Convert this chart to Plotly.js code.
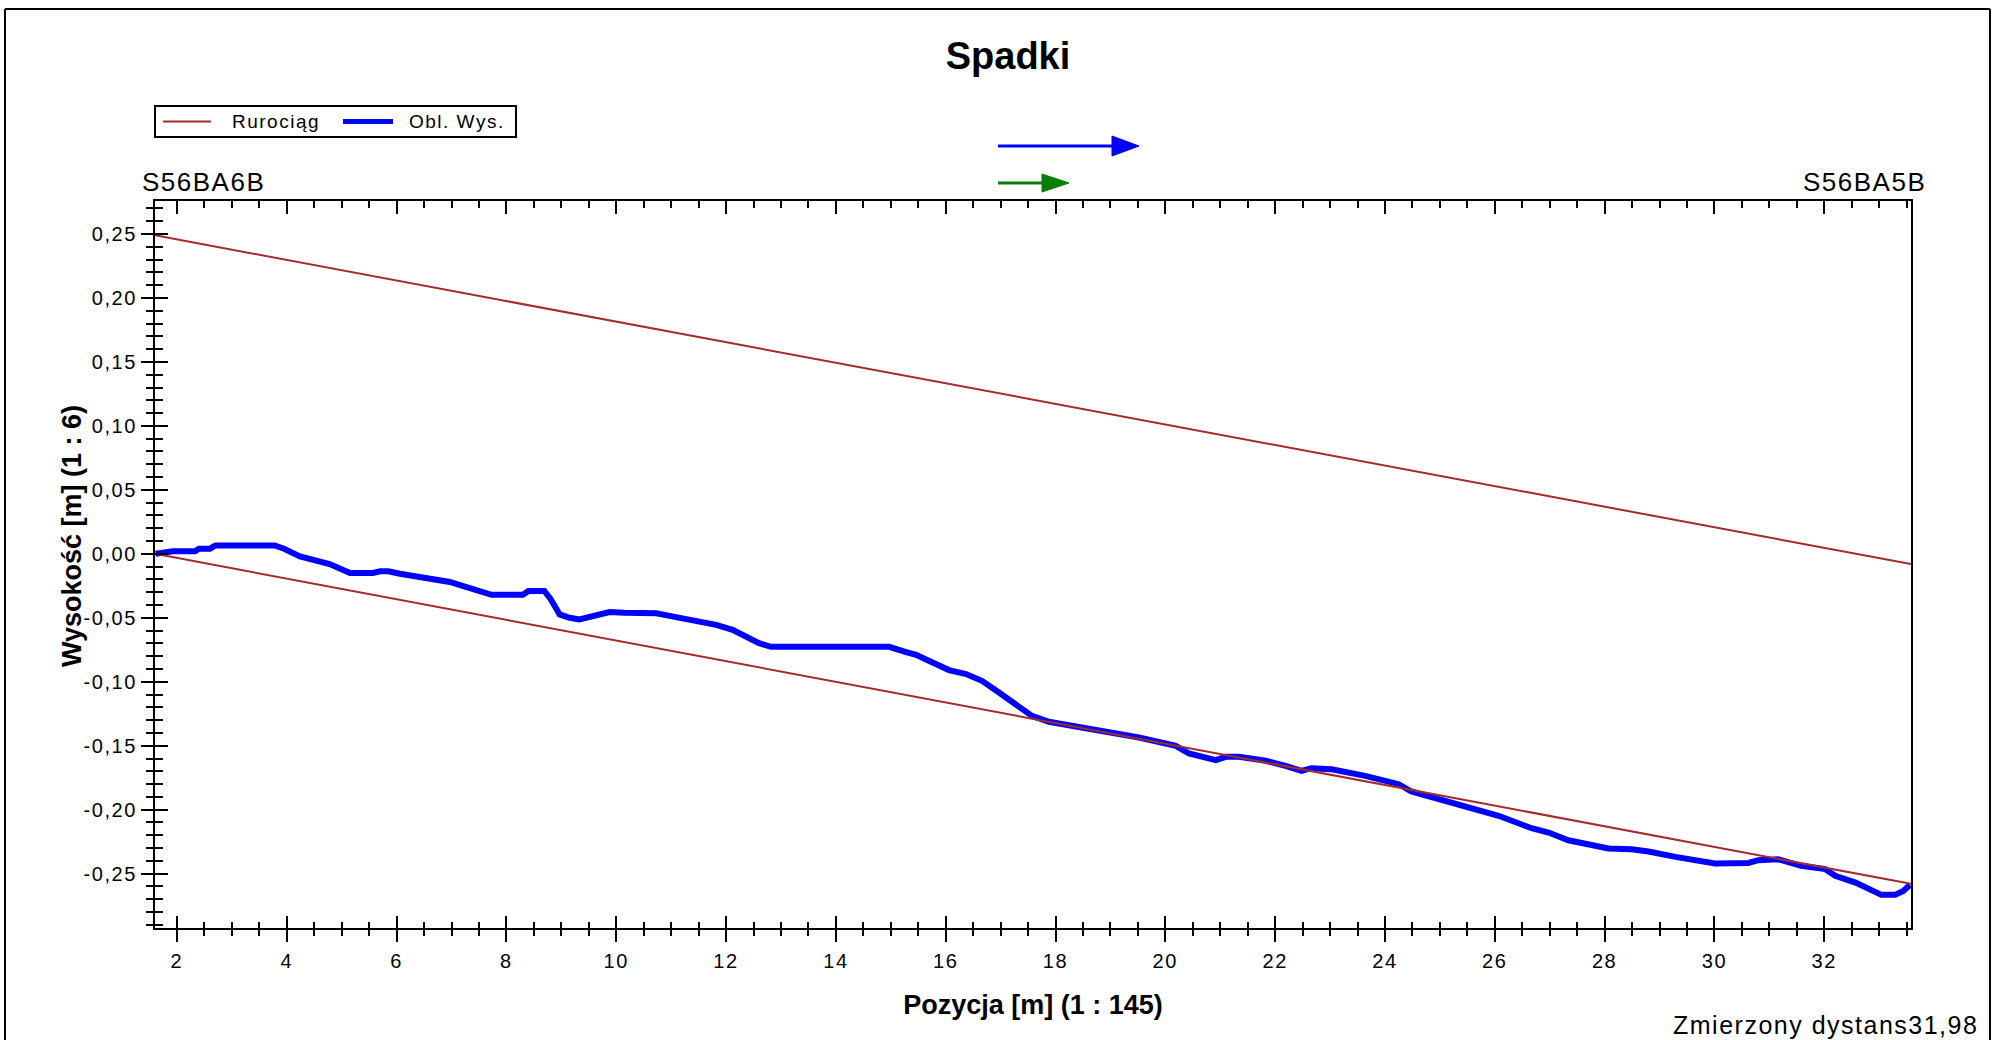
<!DOCTYPE html>
<html><head><meta charset="utf-8">
<script src="https://cdn.plot.ly/plotly-3.0.1.min.js"></script>
<style>
html,body{margin:0;padding:0;background:#fff;}
#chart{width:1994px;height:1040px;}
.xtick text,.ytick text{letter-spacing:1.6px;}
.annotation-text{letter-spacing:1.5px;}
.annotation-text[style*="font-weight: 700"]{letter-spacing:0;}
</style></head><body><div id="chart"></div><script>
// ---- data ----
const pipeX = [1.6, 33.58];
const pipeTop = [0.249, -0.008];
const pipeBottom = [0.0, -0.258];

const oblX = [1.61,1.93,2.33,2.40,2.60,2.70,3.78,3.95,4.24,4.50,4.78,5.15,5.57,5.70,5.85,6.06,6.60,6.97,7.20,7.46,7.73,8.30,8.40,8.69,8.80,8.97,9.15,9.33,9.60,9.88,10.15,10.73,10.97,11.46,11.82,12.12,12.37,12.60,12.82,14.97,15.28,15.46,15.76,16.06,16.37,16.66,16.97,17.28,17.57,17.88,18.30,18.79,19.52,20.19,20.43,20.92,21.10,21.34,21.83,22.19,22.48,22.66,23.03,23.64,24.25,24.48,24.85,25.47,26.07,26.67,26.98,27.34,27.76,28.07,28.49,28.80,29.29,29.71,30.01,30.62,30.80,31.16,31.34,31.58,32.02,32.20,32.57,32.86,33.04,33.29,33.44,33.56];
const oblY = [0.000,0.002,0.002,0.004,0.004,0.0065,0.0065,0.004,-0.002,-0.005,-0.008,-0.015,-0.015,-0.0136,-0.0136,-0.0156,-0.019,-0.022,-0.025,-0.0287,-0.032,-0.032,-0.029,-0.029,-0.035,-0.0474,-0.050,-0.0513,-0.048,-0.0455,-0.046,-0.0465,-0.0485,-0.052,-0.0555,-0.0594,-0.0646,-0.0698,-0.0727,-0.0727,-0.0768,-0.079,-0.085,-0.0909,-0.094,-0.0993,-0.1084,-0.1175,-0.1267,-0.1313,-0.1345,-0.1379,-0.1436,-0.1501,-0.1561,-0.1613,-0.1587,-0.1587,-0.1618,-0.1658,-0.1697,-0.1676,-0.1684,-0.1736,-0.1801,-0.1858,-0.190,-0.1978,-0.2048,-0.2145,-0.2179,-0.2239,-0.2275,-0.2304,-0.2309,-0.2327,-0.2369,-0.2395,-0.2421,-0.2416,-0.2395,-0.2387,-0.2413,-0.2439,-0.2465,-0.2517,-0.257,-0.2622,-0.2666,-0.2666,-0.2635,-0.2588];

const xTickVals = [2,4,6,8,10,12,14,16,18,20,22,24,26,28,30,32];
const xTickText = ['2','4','6','8','10','12','14','16','18','20','22','24','26','28','30','32'];
const yTickVals = [0.25,0.20,0.15,0.10,0.05,0,-0.05,-0.10,-0.15,-0.20,-0.25];
const yTickText = ['0,25','0,20','0,15','0,10','0,05','0,00','-0,05','-0,10','-0,15','-0,20','-0,25'];

const seriesNames = ['Rurociąg','Obl. Wys.'];
const seriesColors = ['#A52A2A','#0000FF'];
const startLabel = 'S56BA6B';
const endLabel = 'S56BA5B';
const distanceText = 'Zmierzony dystans31,98';

// ---- geometry helpers (pixel -> paper) ----
const W = 1994, H = 1040;
const M = {l:155, r:83, t:201, b:112};
const PW = W - M.l - M.r, PH = H - M.t - M.b;
const px = v => (v - M.l) / PW;
const py = v => (H - M.b - v) / PH;

const FONT = 'Liberation Sans, Arial, Helvetica, sans-serif';
const xRange = [1.6, 33.58];
const yRange = [-0.2925, 0.2758];

const traces = [
  {x: oblX, y: oblY, type:'scatter', mode:'lines', name: seriesNames[1], showlegend:false,
   line:{color:seriesColors[1], width:6}},
  {x: [pipeX[0], pipeX[1], null, pipeX[0], pipeX[1]],
   y: [pipeTop[0], pipeTop[1], null, pipeBottom[0], pipeBottom[1]],
   type:'scatter', mode:'lines', name: seriesNames[0], showlegend:false,
   line:{color:seriesColors[0], width:2}},
  {x:[], y:[], xaxis:'x2', yaxis:'y', showlegend:false, hoverinfo:'skip', type:'scatter'},
  {x:[], y:[], xaxis:'x3', yaxis:'y', showlegend:false, hoverinfo:'skip', type:'scatter'},
  {x:[], y:[], xaxis:'x', yaxis:'y2', showlegend:false, hoverinfo:'skip', type:'scatter'}
];

function arrow(x0, x1, tip, yc, half, color, w) {
  return [
    {type:'line', xref:'paper', yref:'paper', x0:px(x0), x1:px(x1), y0:py(yc), y1:py(yc),
     line:{color:color, width:w}},
    {type:'path', xref:'paper', yref:'paper',
     path:`M${px(x1)},${py(yc-half)} L${px(tip)},${py(yc)} L${px(x1)},${py(yc+half)} Z`,
     fillcolor:color, line:{color:color, width:1}}
  ];
}
function hline(x0, x1, y, color, w) {
  return {type:'line', xref:'paper', yref:'paper', x0:px(x0), x1:px(x1), y0:py(y), y1:py(y),
          line:{color:color, width:w}};
}

const shapes = [
  // outer frame
  {type:'line', xref:'paper', yref:'paper', x0:px(5), x1:px(5), y0:py(9), y1:py(1050), line:{color:'black', width:2}},
  hline(5, 1990, 9, 'black', 2),
  {type:'line', xref:'paper', yref:'paper', x0:px(1990), x1:px(1990), y0:py(9), y1:py(1050), line:{color:'black', width:2}},
  // legend box and samples
  {type:'rect', xref:'paper', yref:'paper', x0:px(155), x1:px(516), y0:py(106), y1:py(137),
   line:{color:'black', width:2}, fillcolor:'white'},
  hline(163, 211, 121.5, seriesColors[0], 2),
  hline(343, 393, 121.5, seriesColors[1], 5),
  // direction arrows
  ...arrow(998, 1112, 1139, 146, 10, '#0000FF', 3),
  ...arrow(998, 1042, 1069, 183, 9, '#008000', 3)
];

const tickCommon = {tickcolor:'black', tickwidth:2, showgrid:false, zeroline:false};

const layout = {
  width: W, height: H, margin: M,
  paper_bgcolor:'white', plot_bgcolor:'white',
  font:{family:FONT, color:'black', size:20},
  showlegend:false,
  title:{text:'Spadki', x:1008/W, xref:'container', xanchor:'center',
         y:1-56/H, yref:'container', yanchor:'middle',
         font:{family:FONT, size:38, weight:700, color:'black'}},
  xaxis:Object.assign({}, tickCommon, {
    range:xRange, autorange:false, showline:true, linecolor:'black', linewidth:2, mirror:true,
    tickmode:'array', tickvals:xTickVals, ticktext:xTickText,
    ticks:'outside', ticklen:12, ticklabelstandoff:2,
    minor:{tickmode:'linear', tick0:0, dtick:0.5, ticks:'outside', ticklen:6, tickwidth:2, tickcolor:'black'},
    tickfont:{family:FONT, size:20, color:'black'},
    title:{text:'Pozycja [m] (1 : 145)', standoff:24, font:{family:FONT, size:27, weight:700, color:'black'}}
  }),
  xaxis2:Object.assign({}, tickCommon, {
    overlaying:'x', anchor:'y', side:'bottom', range:xRange, autorange:false,
    showline:false, showticklabels:false,
    tickmode:'array', tickvals:xTickVals, ticks:'inside', ticklen:12,
    minor:{tickmode:'linear', tick0:0, dtick:0.5, ticks:'inside', ticklen:6, tickwidth:2, tickcolor:'black'}
  }),
  xaxis3:Object.assign({}, tickCommon, {
    overlaying:'x', anchor:'y', side:'top', range:xRange, autorange:false,
    showline:false, showticklabels:false,
    tickmode:'array', tickvals:xTickVals, ticks:'inside', ticklen:13,
    minor:{tickmode:'linear', tick0:0, dtick:0.5, ticks:'inside', ticklen:7, tickwidth:2, tickcolor:'black'}
  }),
  yaxis:Object.assign({}, tickCommon, {
    range:yRange, autorange:false, showline:true, linecolor:'black', linewidth:2, mirror:true,
    tickmode:'array', tickvals:yTickVals, ticktext:yTickText,
    ticks:'outside', ticklen:12,
    minor:{tickmode:'linear', tick0:0, dtick:0.01, ticks:'outside', ticklen:7, tickwidth:2, tickcolor:'black'},
    tickfont:{family:FONT, size:20, color:'black'}
  }),
  yaxis2:Object.assign({}, tickCommon, {
    overlaying:'y', anchor:'x', side:'left', range:yRange, autorange:false,
    showline:false, showticklabels:false,
    tickmode:'array', tickvals:yTickVals, ticks:'inside', ticklen:13,
    minor:{tickmode:'linear', tick0:0, dtick:0.01, ticks:'inside', ticklen:8, tickwidth:2, tickcolor:'black'}
  }),
  shapes: shapes,
  annotations:[
    {text:'Wysokość [m] (1 : 6)', xref:'paper', yref:'paper', x:px(72), y:py(536), textangle:-90,
     xanchor:'center', yanchor:'middle', showarrow:false,
     font:{family:FONT, size:27, weight:700, color:'black'}},
    {text:seriesNames[0], xref:'paper', yref:'paper', x:px(230), y:py(121.5), xanchor:'left', yanchor:'middle',
     showarrow:false, font:{family:FONT, size:19, color:'black'}},
    {text:seriesNames[1], xref:'paper', yref:'paper', x:px(407), y:py(121.5), xanchor:'left', yanchor:'middle',
     showarrow:false, font:{family:FONT, size:19, color:'black'}},
    {text:startLabel, xref:'paper', yref:'paper', x:px(140), y:py(182), xanchor:'left', yanchor:'middle',
     showarrow:false, font:{family:FONT, size:26, color:'black'}},
    {text:endLabel, xref:'paper', yref:'paper', x:px(1928), y:py(182), xanchor:'right', yanchor:'middle',
     showarrow:false, font:{family:FONT, size:26, color:'black'}},
    {text:distanceText, xref:'paper', yref:'paper', x:px(1980), y:py(1025), xanchor:'right', yanchor:'middle',
     showarrow:false, font:{family:FONT, size:25, color:'black'}}
  ]
};

Plotly.newPlot('chart', traces, layout, {staticPlot:true, displayModeBar:false});
</script></body></html>
